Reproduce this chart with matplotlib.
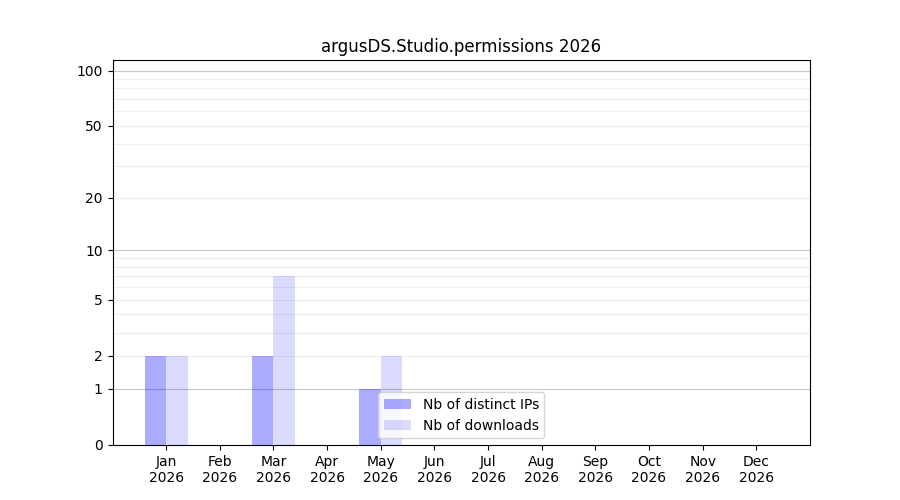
import numpy as np
import matplotlib
matplotlib.use("Agg")
import matplotlib.pyplot as plt

months = ['Jan', 'Feb', 'Mar', 'Apr', 'May', 'Jun', 'Jul', 'Aug', 'Sep', 'Oct', 'Nov', 'Dec']
year = 2026
distinct_ips = [2, 0, 2, 0, 1, 0, 0, 0, 0, 0, 0, 0]
downloads = [2, 0, 7, 0, 2, 0, 0, 0, 0, 0, 0, 0]
ytick_values = [0, 1, 2, 5, 10, 20, 50, 100]


def fwd(v):
    return np.log10(1 + np.clip(v, 0, None))


def inv(v):
    return 10 ** v - 1


x = np.arange(len(months))
width = 0.4

fig, ax = plt.subplots(figsize=(9, 5), dpi=100)
ax.set_yscale('function', functions=(fwd, inv))

# light grid lines at 2..9, 20..90, darker ones at 1, 10, 100
for decade in [1, 10]:
    for k in range(2, 10):
        ax.axhline(k * decade, color='#eeeeee', lw=0.8, zorder=0)
for v in [1, 10, 100]:
    ax.axhline(v, color='#c8c8c8', lw=0.8, zorder=0)

ax.bar(x - width / 2, distinct_ips, width, color='blue', alpha=0.33, label='Nb of distinct IPs')
ax.bar(x + width / 2, downloads, width, color='blue', alpha=0.14, label='Nb of downloads')

ax.set_ylim(0, 114)
ax.set_xlim(-1, 12)
ax.set_yticks(ytick_values)
ax.set_yticklabels([str(v) for v in ytick_values])
ax.yaxis.set_minor_locator(matplotlib.ticker.NullLocator())
ax.set_xticks(x)
ax.set_xticklabels([f'{m}\n{year}' for m in months])
ax.set_title(f'argusDS.Studio.permissions {year}')
ax.legend(loc='lower center')

plt.savefig('out.png')
